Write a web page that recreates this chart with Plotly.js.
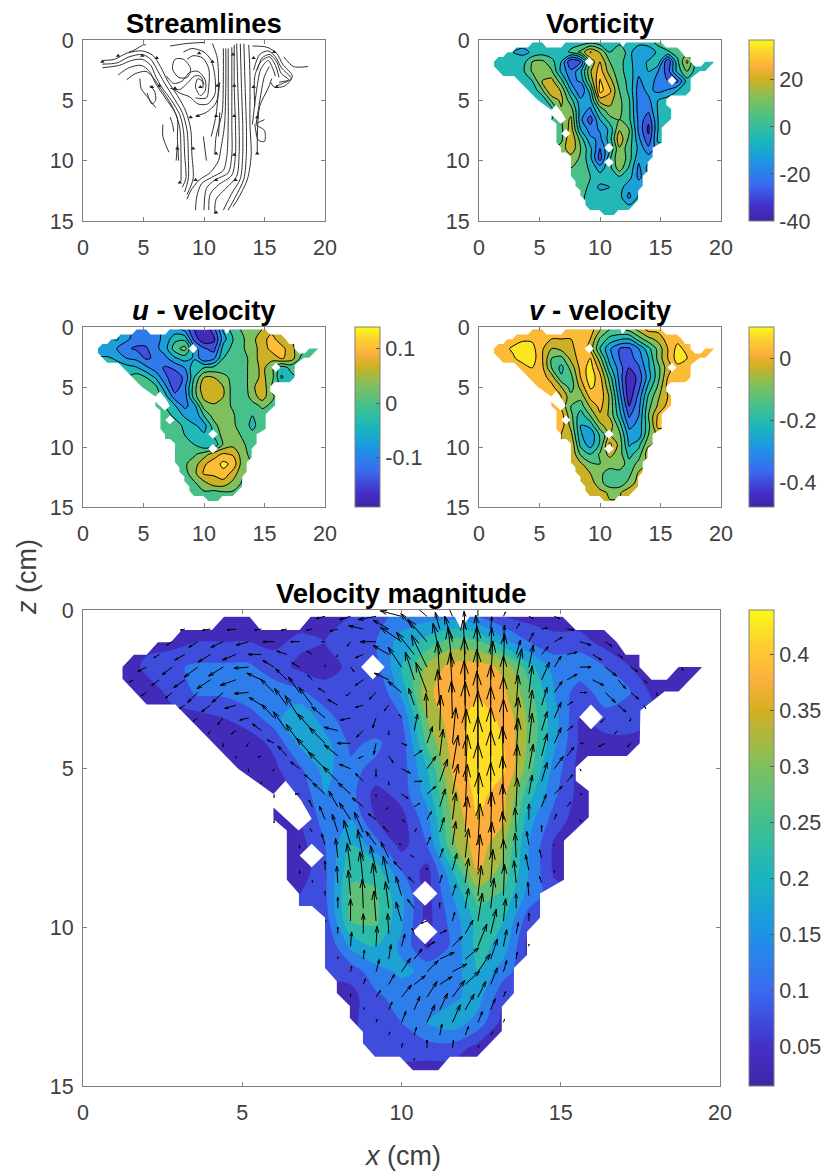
<!DOCTYPE html>
<html><head><meta charset="utf-8">
<script src="https://cdn.plot.ly/plotly-3.0.1.min.js"></script>
<style>html,body{margin:0;padding:0;background:#fff}</style></head>
<body><div id="chart" style="width:832px;height:1174px"></div>
<script>
const _ = null;
const xGrid = [1.2,2,2.8,3.6,4.4,5.2,6,6.8,7.6,8.4,9.2,10,10.8,11.6,12.4,13.2,14,14.8,15.6,16.4,17.2,18,18.8,19.6];
const zGrid = [0.2,1,1.8,2.6,3.4,4.2,5,5.8,6.6,7.4,8.2,9,9.8,10.6,11.4,12.2,13,13.8,14.6];

const magnitude = [
[_,_,_,.02,.03,.03,.02,.03,.04,.05,.08,.12,.13,.13,.1,.05,.03,.02,.02],
[_,_,.03,.05,.05,.05,.04,.06,.05,.06,.1,.17,.22,.27,.26,.17,.1,.07,.07,.03],
[.02,.06,.09,.11,.11,.11,.07,.04,.03,.06,.08,.2,.31,.37,.37,.34,.22,.13,.14,.1,.05,_,.02],
[_,.03,.06,.11,.11,.14,.13,.11,.07,.05,.05,.16,.34,.38,.39,.36,.27,.15,.07,.13,.1,.03],
[_,_,_,.03,.05,.07,.13,.2,.12,.07,.06,.1,.3,.38,.42,.39,.29,.17,.05,.08,.1],
[_,_,_,_,.02,.03,.06,.16,.17,.09,.11,.07,.26,.37,.43,.4,.29,.16,.04,.03,.02],
[_,_,_,_,_,.02,.04,.09,.17,.11,.09,.07,.2,.36,.43,.41,.27,.13,.03],
[_,_,_,_,_,_,.02,.06,.15,.12,.03,.07,.17,.33,.42,.37,.22,.11,.03],
[_,_,_,_,_,_,.02,.05,.12,.15,.05,.03,.13,.31,.4,.36,.17,.08,.02],
[_,_,_,_,_,_,_,.03,.1,.2,.12,.03,.1,.29,.38,.31,.15,.04],
[_,_,_,_,_,_,_,.02,.09,.24,.23,.1,.03,.2,.36,.28,.15,.04],
[_,_,_,_,_,_,_,_,.09,.26,.26,.16,.03,.15,.27,.24,.13],
[_,_,_,_,_,_,_,_,.07,.25,.26,.16,.03,.12,.22,.2,.07],
[_,_,_,_,_,_,_,_,.05,.16,.2,.14,.04,.11,.22,.18,.03],
[_,_,_,_,_,_,_,_,_,.07,.13,.16,.14,.12,.2,.12],
[_,_,_,_,_,_,_,_,_,.03,.09,.12,.11,.14,.17,.06],
[_,_,_,_,_,_,_,_,_,_,.06,.1,.15,.18,.13,.03],
[_,_,_,_,_,_,_,_,_,_,_,.06,.08,.08,.03],
[_,_,_,_,_,_,_,_,_,_,_,_,.02,.02]
];
const uVelocity = [
[_,_,_,_,_,_,_,_,-.08,-.1,-.16,-.19,-.14,-.05,0,.02,.04,.05],
[_,_,-.05,-.08,-.11,-.11,-.1,-.08,-.03,-.03,-.14,-.19,-.17,-.07,-.02,.01,.04,.07,.1,.06],
[_,-.08,-.09,-.12,-.13,-.13,-.1,-.07,0,.03,_,-.12,-.14,-.04,-.01,.01,.04,.06,.1,.1,.06,_,.01],
[_,-.05,-.06,-.09,-.1,-.13,-.12,-.1,-.06,-.04,-.06,-.12,-.1,-.02,-.01,0,.03,.07,.06,.09,.07,.01],
[_,_,_,-.04,-.05,-.08,-.11,-.13,-.12,-.09,-.03,-.02,-.01,-.01,-.01,0,.03,.06,_,-.04,-.01],
[_,_,_,_,0,-.02,-.06,-.12,-.14,-.12,-.02,.05,.05,.03,0,0,.03,.06,.03,-.06,-.03],
[_,_,_,_,_,0,-.01,-.08,-.15,-.1,0,.08,.08,.05,0,-.01,.04,.08,.01],
[_,_,_,_,_,_,0,-.04,-.11,-.11,0,.06,.08,.05,0,-.01,.03,.07,.02],
[_,_,_,_,_,_,0,_,-.05,-.1,-.07,.03,.04,.03,.01,-.01,0,.02,.01],
[_,_,_,_,_,_,_,0,-.03,-.06,-.09,-.02,.03,.03,.02,-.01,-.02,0],
[_,_,_,_,_,_,_,0,0,-.03,-.05,-.07,0,.04,.02,0,-.03,0],
[_,_,_,_,_,_,_,_,0,-.02,-.03,-.05,_,.03,.03,.01,-.01],
[_,_,_,_,_,_,_,_,.01,0,-.02,-.05,-.05,.02,.04,.02,0],
[_,_,_,_,_,_,_,_,0,.01,.01,.03,.07,.09,.08,.03,0],
[_,_,_,_,_,_,_,_,_,.01,.03,.08,.1,.13,.11,.03],
[_,_,_,_,_,_,_,_,_,0,.04,.09,.09,.11,.07,.02],
[_,_,_,_,_,_,_,_,_,_,.01,.04,.07,.07,.04,.01],
[_,_,_,_,_,_,_,_,_,_,_,.01,0,.01,.01],
[]
];
const vVelocity = [
[_,_,_,_,_,_,_,_,.02,.03,.03,-.05,-.12,-.12,-.1,-.04,.02,.02],
[_,_,.03,.05,.05,.03,0,0,0,.04,0,-.13,-.2,-.23,-.24,-.15,-.08,-.04,.03,.04],
[_,.04,.07,.09,.08,.01,-.06,-.04,-.02,.04,_,-.18,-.29,-.36,-.37,-.3,-.2,-.1,0,.08,.04,.03,.03],
[_,.03,.05,.09,.09,.01,-.12,-.14,-.04,.03,.06,-.1,-.27,-.36,-.39,-.33,-.24,-.1,0,.09,.06,.03],
[_,_,_,.03,.06,.02,-.12,-.2,-.1,.02,.09,-.03,-.22,-.33,-.42,-.37,-.25,-.14,_,.04,.03],
[_,_,_,_,.03,.03,-.03,-.17,-.14,0,.1,.02,-.15,-.32,-.47,-.4,-.27,-.14,0,.03,.03],
[_,_,_,_,_,.03,.02,-.06,-.15,-.04,.07,.04,-.11,-.3,-.47,-.38,-.22,-.11,.02],
[_,_,_,_,_,_,.03,0,-.1,-.1,.02,.04,-.07,-.27,-.46,-.34,-.17,-.07,0],
[_,_,_,_,_,_,.03,_,-.12,-.15,-.05,.02,-.07,-.24,-.42,-.32,-.14,-.05,.02],
[_,_,_,_,_,_,_,.03,-.1,-.22,-.12,-.01,-.07,-.21,-.37,-.3,-.12,.01],
[_,_,_,_,_,_,_,.03,-.08,-.24,-.22,-.08,-.02,-.15,-.32,-.28,-.14,.02],
[_,_,_,_,_,_,_,_,-.04,-.23,-.29,-.17,_,-.1,-.27,-.28,-.12],
[_,_,_,_,_,_,_,_,0,-.2,-.27,-.17,.02,-.08,-.25,-.2,-.07],
[_,_,_,_,_,_,_,_,0,-.13,-.18,-.11,-.04,-.09,-.2,-.15,-.02],
[_,_,_,_,_,_,_,_,_,-.05,-.11,-.12,-.1,-.07,-.16,-.1],
[_,_,_,_,_,_,_,_,_,-.03,-.06,-.11,-.14,-.15,-.14,-.05],
[_,_,_,_,_,_,_,_,_,_,-.03,-.1,-.16,-.16,-.1,-.03],
[_,_,_,_,_,_,_,_,_,_,_,-.04,-.07,-.07,-.02],
[]
];
const vorticity = [
[_,_,_,-5,-8,-5,-4,-6,-4,-4,-2,-5,-5,-3,-5,-5,-4,3,5],
[_,_,-8,-10,-7,-4,-5,-6,2,10,25,15,0,8,-5,-15,-14,-6,-1,3],
[-2,-6,-3,-4,8,10,3,-8,-32,-24,10,24,8,4,-6,-12,-7,-3,-32,-2,18,-5,-5],
[_,-1,-1,-2,9,16,9,-10,-22,-10,15,28,12,3,-4,-14,-8,-16,-28,-5,8,-5],
[_,_,_,-4,0,16,19,3,-18,-15,10,33,20,4,-2,-18,-10,-20,-24,-26,-4],
[_,_,_,_,-7,6,24,15,-8,-24,-4,35,26,8,-2,-20,-14,-18,-15,-8,-5],
[_,_,_,_,_,-8,10,18,3,-14,-10,20,19,10,1,-20,-18,-8,-4],
[_,_,_,_,_,_,-4,15,12,-12,-18,2,14,10,2,-20,-22,-7,-4],
[_,_,_,_,_,_,0,8,18,-14,-28,-8,4,8,2,-18,-30,-8,-4],
[_,_,_,_,_,_,_,6,20,-8,-20,-15,-6,15,8,-18,-34,-8],
[_,_,_,_,_,_,_,6,24,4,-14,-18,-4,22,6,-14,-30,-6],
[_,_,_,_,_,_,_,_,22,8,-6,-24,-8,15,3,-10,-22],
[_,_,_,_,_,_,_,_,12,7,-6,-28,-2,16,4,-14,-12],
[_,_,_,_,_,_,_,_,8,6,-2,-12,-3,13,-1,-18,-5],
[_,_,_,_,_,_,_,_,_,6,0,-4,-5,-2,-5,-18],
[_,_,_,_,_,_,_,_,_,4,-2,-10,-8,-4,-14,-10],
[_,_,_,_,_,_,_,_,_,_,-2,-3,-3,-5,-18,-7],
[_,_,_,_,_,_,_,_,_,_,_,-3,-3,-6,-6],
[_,_,_,_,_,_,_,_,_,_,_,_,-3,-3]
];

// second, staggered set of arrows on the large panel
const xArrows2 = [1.6,2.4,3.2,4,4.8,5.6,6.4,7.2,8,8.8,9.6,10.4,11.2,12,12.8,13.6,14.4,15.2,16,16.8,17.6];
const zArrows2 = [.6,1.4,2.2,3,3.8,4.6,5.4,6.2,7,7.8,8.6,9.4,10.2,11,11.8,12.6,13.4,14.2];
const uArrows2 = [
[_,_,-.04,-.07,-.08,-.06,-.05,-.05,-.07,-.13,-.14,-.12,-.04,-.01,.01,.03,.05,.06],
[_,-.05,-.09,-.11,-.12,-.12,-.09,-.05,-.01,-.07,-.14,-.16,-.06,-.02,.01,.04,.06,.09,.08,.04],
[-.04,-.07,-.1,-.12,-.14,-.13,-.1,-.04,0,-.07,-.13,-.08,-.02,-.01,.02,.05,.07,.09,.1,.07,.03],
[_,_,-.05,-.08,-.1,-.11,-.11,-.12,-.09,-.07,-.04,-.05,-.02,-.01,0,.02,.05,.05,_,.07,.02],
[_,_,_,-.02,-.04,-.08,-.12,-.13,-.12,-.06,0,.03,.01,0,0,.02,.05,.05,_,-.03],
[_,_,_,_,0,-.03,-.08,-.14,-.12,-.04,.04,.07,.03,.01,0,.02,.05,.06],
[_,_,_,_,_,0,_,-.07,-.13,-.07,0,.07,.07,.02,0,.01,.05,.05],
[_,_,_,_,_,_,_,-.03,-.08,-.1,-.02,.05,.05,.02,0,.01,.04,.03],
[_,_,_,_,_,_,_,-.02,-.05,-.08,-.05,.02,.04,.02,.01,-.01,0],
[_,_,_,_,_,_,_,_,-.02,-.05,-.07,-.03,.03,.03,.01,-.01,-.02],
[_,_,_,_,_,_,_,0,-.01,-.03,-.05,-.05,.02,.03,.02,-.02,-.02],
[_,_,_,_,_,_,_,_,0,-.01,-.03,-.06,0,.03,.03,0],
[_,_,_,_,_,_,_,_,0,0,-.01,-.02,.06,.07,.05,.02],
[_,_,_,_,_,_,_,_,0,.01,.02,.07,.13,.12,.06,.01],
[_,_,_,_,_,_,_,_,_,.02,.05,.1,.11,.13,.06],
[_,_,_,_,_,_,_,_,_,.01,.03,.05,.07,.08,.04],
[_,_,_,_,_,_,_,_,_,_,.01,.02,.02,.03,.02],
[_,_,_,_,_,_,_,_,_,_,_,0]
];
const vArrows2 = [
[_,_,.01,.01,.01,.01,.01,.01,.02,-.03,-.08,-.14,-.15,-.16,-.11,-.05,-.01,.01],
[_,.03,.05,.07,.05,0,-.03,-.03,.02,.03,-.08,-.2,-.28,-.31,-.24,-.13,-.07,-.02,.05,.03],
[.02,.05,.07,.08,.05,-.06,-.1,-.04,0,.05,-.06,-.25,-.35,-.38,-.35,-.28,-.16,-.05,.05,.08,.03],
[_,_,.03,.06,.03,-.07,-.15,-.16,-.05,.02,.05,-.15,-.32,-.4,-.36,-.27,-.16,-.03,_,.06,.03],
[_,_,_,.03,.03,-.06,-.17,-.15,-.03,.06,.04,-.15,-.32,-.44,-.4,-.3,-.17,-.04,_,.03],
[_,_,_,_,.02,.01,-.09,-.16,-.1,.02,.06,-.05,-.24,-.42,-.44,-.34,-.2,-.08],
[_,_,_,_,_,.02,_,-.06,-.13,-.07,.03,0,-.2,-.42,-.46,-.33,-.17,-.06],
[_,_,_,_,_,_,_,-.06,-.14,-.08,.02,-.03,-.16,-.38,-.4,-.26,-.11,-.04],
[_,_,_,_,_,_,_,-.03,-.16,-.18,-.05,-.03,-.13,-.32,-.36,-.22,-.06],
[_,_,_,_,_,_,_,_,-.17,-.25,-.14,-.02,-.08,-.26,-.32,-.22,-.07],
[_,_,_,_,_,_,_,-.02,-.15,-.28,-.24,-.05,-.07,-.22,-.3,-.2,-.06],
[_,_,_,_,_,_,_,_,-.1,-.26,-.24,-.08,-.05,-.18,-.27,-.13],
[_,_,_,_,_,_,_,_,-.06,-.18,-.18,-.05,-.03,-.12,-.22,-.1],
[_,_,_,_,_,_,_,_,-.02,-.08,-.13,-.09,-.06,-.1,-.18,-.06],
[_,_,_,_,_,_,_,_,_,-.05,-.09,-.08,-.07,-.12,-.15],
[_,_,_,_,_,_,_,_,_,-.02,-.07,-.12,-.15,-.14,-.1],
[_,_,_,_,_,_,_,_,_,_,-.03,-.07,-.1,-.08,-.03],
[_,_,_,_,_,_,_,_,_,_,_,-.02]
];

const outlineX = [1.24,1.6,2.0,2.35,2.76,3.1,4.05,4.43,5.23,5.57,6.8,7.15,11.67,11.87,12.14,15.06,15.47,16.36,16.76,17.04,17.47,17.47,17.85,18.33,18.7,19.44,18.7,18.26,17.5,17.48,17.08,15.85,15.47,15.47,15.88,15.88,15.1,15.1,14.35,14.35,13.94,13.94,13.53,13.53,13.15,13.15,12.37,11.52,11.15,10.36,9.95,9.17,8.79,8.79,8.38,8.38,7.97,7.97,7.6,7.6,7.19,6.78,6.78,6.4,6.4,5.98,5.98,4.87,2.9,2.0,1.24];
const outlineZ = [1.8,1.41,1.41,1.02,1.02,.63,.63,.21,.21,.63,.63,.21,.21,.6,.21,.21,.63,.63,1.02,1.41,1.41,1.8,2.2,2.2,1.8,1.8,2.57,2.57,3.17,4.2,4.6,4.6,4.96,5.38,5.7,6.53,7.27,8.5,8.93,9.7,10.14,10.87,11.28,12.07,12.5,13.27,14.08,14.08,14.5,14.5,14.08,14.08,13.65,13.3,12.86,12.48,12.07,11.7,11.28,9.7,9.33,9.33,8.93,8.5,6.95,6.59,5.8,5,2.98,2.98,2.17];
const holesX = [[8.73,9.1,9.47,9.1],[15.58,15.95,16.32,15.95],[6.36,6.85,7.18,6.77,5.98,5.98],[6.8,7.18,7.56,7.18],[10.35,10.74,11.13,10.74],[10.35,10.74,11.13,10.74]];
const holesZ = [[1.8,1.41,1.8,2.19],[3.37,2.98,3.37,3.76],[5.38,6,6.58,6.95,6.22,5.8],[7.74,7.37,7.74,8.11],[8.93,8.54,8.93,9.32],[10.14,9.75,10.14,10.53]];

const streamX = [
[1.6,2.6,3.6,4.9,5.8,6.4,7,7.8,8.5,8.9,9,9.1,8.6],[1.6,2.8,3.8,4.9,5.6,6.2,6.7,7.5,8.2,8.6,8.7,8.7,8.4],
[1.6,3,4,4.9,5.6,6,6.5,7.3,8,8.3,8.4,8.5,8.2],[2.9,3.8,4.8,5.5,6,6.8,7.6,8,8.1,8.1],[3.6,4.3,5.2,5.7,6.4,7.2,7.8,7.8,7.9],
[3.8,4.3,5,5.2],[4.7,4.8,5.3,6],[5.5,5.9,6,5.7,5.3],[6.6,6.6,7.1],[7.2,7.4,7.5],[7.8,7.7],
[11.6,11.6,11.5,11,10.9],[11.8,11.8,11.7,11.4,11.2,10.5,9.6,8.9,8.6],[12,12,12,11.9,11.6,10.6,9.8,9.4,9.3],[12.3,12.3,12.3,12.3,12,10.9,10.2,10],
[12.5,12.5,12.6,12.6,12.3,11.2,10.5,10.4],[12.7,12.8,12.9,12.9,12.7,11.8,11,10.9],[13,13.1,13.2,13.2,13,12.3,11.6],[13.3,13.4,13.5,13.5,13.3,12.6,12],[13.7,13.8,13.8,13.9,13.6,12.9,12.4],
[14,15.2,16,16.5,17.3,16.7,15.8,15.5],[14.1,14.6,15.3,15.9,16.4,17.2,16.5,16],[14.4,14.8,15.4,16,16.4,17,16.2],[14.2,14.2,14.7,15.4,15.9,16.2],[14,14.3,14.7,15.3,15.7,15.9],[14.3,14.7,15,15.4],[14.4,14.6,15.3,15.6],
[14.2,14.5,15,15,14.3,15],[14.4,14.4],[16.6,17.4,18.6],
[7.6,8.3,8.9,8.6,7.9,7.4,7.6],[6.9,7.5,8.2,8.8,9.5,10.1,10.1,9.7,9.3,9.5,9.9,9.9],[7.2,8,8.6,9.2,9.7,10],[7.2,8.5,10],[8.3,9,10,10.6,10.9,10.9,10.3,9.5,8.8,8,7.4],[8.6,9.1,9.9,10.4,10.4,10.2,9.3],[10.7,11.1,11.2,11,10.6],[9.3,10.2,11,11.3],[9.95,10.2],[11.3,11.2]
];
const streamZ = [
[1.7,1.6,1.1,.9,1.3,2.2,3.4,4.6,5.9,7.4,9.5,11.5,12.8],[2,1.9,1.4,1.2,1.6,2.6,3.5,4.8,6,7.5,9.5,11.5,12.6],
[2.3,2.1,1.7,1.6,2.1,3,3.9,5,6.2,7.5,9.5,11.5,12.2],[2.9,2.3,2.1,2.6,3.6,4.8,6,7.3,9.5,11.7],[3.3,2.8,2.6,3,4,5.2,6.5,8,10],
[1,.8,.4,.4],[3.2,4,4.7,5.6],[3.8,4.2,5,5.3,4.4],[7,8,9.3],[6.4,7,7.6],[8.7,10],
[.7,3,6,8,9.4],[.7,4,7,9,10,11,11.6,12.5,13.2],[.7,4,7,9.5,10.8,11.4,11.9,13,14.1],[.6,4,7,9.5,11,11.6,12.3,14.1],
[.4,4,7,9.5,11.2,12,12.8,14.1],[.3,4,7,9.5,11.3,12.3,13.2,14.4],[.3,4,7,9.5,11.5,12.7,14.1],[.3,4,7,9.5,11.5,13,14.1],[.4,3,7,9.5,11.5,13,13.8],
[.5,.6,1.1,2,3,3.8,3.9,3.5],[2.5,1.2,.9,1.4,2.3,3.2,3.6,3.8],[2.5,1.5,1.2,1.8,2.8,3.3,3.5],[5.5,3,1.8,1.4,2.1,3.1],[7,4.5,2.4,1.7,2.4,3],[7,4.5,3,2.2],[8,5.5,4,3.2],
[7,8.3,8.4,7.5,7,6.6],[7.5,9.4],[1.4,2.2,2.2],
[1.6,1.6,2.4,3.1,3.1,2.4,1.6],[3,3.6,3.4,2.7,2.6,3.3,4.2,4.6,3.9,3.2,3.5,4],[4,4.1,3.6,3,3,3.7],[.5,.3,.2],[1,.7,1,1.7,3,4.5,5.3,5.3,4.7,4.4,4],[1.6,1.3,1.5,2.4,3.8,4.8,4.8],[.3,1.5,3.7,6.2,8],[6.3,6,5.2,3.5],[8,10],[6,8]
];
const headX = [1.6,2.9,4.9,6.1,6.3,5.7,7.6,9.7,9.6,10.7,11.1,9.5,11,8.9,7.8,9.1,8,9.3,11,12.6,11,12.5,12.5,12.5,12.4,14.1,14.1,15.8,16,14.4,14.4,11];
const headZ = [1.8,1.3,1.3,1.5,3.8,3.9,4,3.9,1.1,1.8,3.8,6.3,6.3,6.4,9,9,11.8,11.6,11.6,11.6,14.3,9.5,6.3,3.8,1.2,3.9,1.5,1,3.9,6.4,9.4,9.4];

const parula = [[0,'#3e26a8'],[.082,'#4330c8'],[.2,'#3a6af0'],[.318,'#1f92e6'],[.435,'#18b5c0'],[.553,'#40c090'],[.67,'#7dc060'],[.79,'#d4b020'],[.847,'#fbae3b'],[.93,'#fdd030'],[1,'#f9fb15']];

function hex(c){return [1,3,5].map(i=>parseInt(c.substr(i,2),16));}
function parulaAt(t){
  t=Math.max(0,Math.min(1,t));
  for(let i=1;i<parula.length;i++){ if(t<=parula[i][0]){
    const a=parula[i-1],b=parula[i],f=(t-a[0])/(b[0]-a[0]),A=hex(a[1]),B=hex(b[1]);
    return 'rgb('+A.map((v,k)=>Math.round(v+(B[k]-v)*f)).join(',')+')';
  }}
  return parula[parula.length-1][1];
}
function pad(rows){return rows.map(r=>{const o=r.slice();while(o.length<xGrid.length)o.push(null);return o;});}

const W=832,H=1174;
const panels=[
 {id:'',  l:83, r:720,t:610,b:1086,cb:749,z:magnitude,vmin:.015,vmax:.44,start:.05,end:.4,size:.05,lines:false,title:'<b>Velocity magnitude</b>',tv:[.05,.1,.15,.2,.25,.3,.35,.4],tt:['0.05','0.1','0.15','0.2','0.25','0.3','0.35','0.4']},
 {id:'2', l:83, r:325,t:40, b:221, title:'<b>Streamlines</b>'},
 {id:'3', l:479,r:721,t:40, b:221, cb:749,z:vorticity,vmin:-40,vmax:37,start:-32,end:32,size:8,lines:true,title:'<b>Vorticity</b>',tv:[-40,-20,0,20],tt:['-40','-20','0','20']},
 {id:'4', l:83, r:325,t:327,b:507, cb:355,z:uVelocity,vmin:-.19,vmax:.14,start:-.16,end:.12,size:.035,lines:true,title:'<b><i>u</i> - velocity</b>',tv:[-.1,0,.1],tt:['-0.1','0','0.1']},
 {id:'5', l:479,r:721,t:327,b:507, cb:749,z:vVelocity,vmin:-.48,vmax:.1,start:-.42,end:.06,size:.06,lines:true,title:'<b><i>v</i> - velocity</b>',tv:[-.4,-.2,0],tt:['-0.4','-0.2','0']}
];

const maskX=[0,20,20,0,0,null].concat(outlineX.slice().reverse());
const maskZ=[0,0,15,15,0,null].concat(outlineZ.slice().reverse());
holesX.forEach((h,i)=>{maskX.push(null,...h,h[0]);maskZ.push(null,...holesZ[i],holesZ[i][0]);});

const ink='#404040', frame='#7f7f7f', fontFam='"Liberation Sans",Arial,sans-serif', tickSize=21.5;
const layout={width:W,height:H,margin:{l:0,r:0,t:0,b:0,pad:0},paper_bgcolor:'#fff',plot_bgcolor:'#fff',showlegend:false,hovermode:false,annotations:[],font:{family:fontFam,color:ink,size:18}};
const traces=[];

panels.forEach(p=>{
  const axis=(dom,extra)=>Object.assign({domain:dom,showgrid:false,zeroline:false,showline:true,linecolor:frame,linewidth:1,mirror:'ticks',ticks:'inside',ticklen:4,tickcolor:frame,tickwidth:1,tickfont:{family:fontFam,size:tickSize,color:ink},fixedrange:true},extra);
  layout['xaxis'+p.id]=axis([p.l/W,p.r/W],{range:[0,20],tickmode:'array',tickvals:[0,5,10,15,20],anchor:'y'+p.id,ticklabelstandoff:7});
  layout['yaxis'+p.id]=axis([1-p.b/H,1-p.t/H],{range:[15,0],tickmode:'array',tickvals:[0,5,10,15],anchor:'x'+p.id,ticklabelstandoff:4});
  const ax={xaxis:'x'+p.id,yaxis:'y'+p.id};
  if(p.z){
    const bands=[],n=Math.round((p.end-p.start)/p.size);
    for(let k=-1;k<=n;k++){
      const lo=k<0?p.vmin:p.start+k*p.size, hi=k>=n?p.vmax:p.start+(k+1)*p.size;
      bands.push(parulaAt(((lo+hi)/2-p.vmin)/(p.vmax-p.vmin)));
    }
    const cs=bands.map((c,i)=>[i/(bands.length-1),c]);
    traces.push(Object.assign({type:'contour',x:xGrid,y:zGrid,z:pad(p.z),connectgaps:true,autocontour:false,showscale:false,hoverinfo:'skip',colorscale:cs,
      contours:{start:p.start,end:p.end,size:p.size,coloring:'fill',showlines:p.lines},
      line:{color:'#000',width:p.lines?1:0,smoothing:.85}},ax));
    traces.push(Object.assign({type:'scatter',mode:'lines',x:maskX,y:maskZ,fill:'toself',fillcolor:'#fff',line:{width:0,color:'rgba(255,255,255,0)'},hoverinfo:'skip'},ax));
    traces.push(Object.assign({type:'scatter',mode:'markers',x:[0,0],y:[0,0],hoverinfo:'skip',marker:{size:1,opacity:0,color:[p.vmin,p.vmax],cmin:p.vmin,cmax:p.vmax,colorscale:parula,showscale:true,
      colorbar:{x:p.cb/W,xanchor:'left',y:1-p.t/H,yanchor:'top',len:(p.b-p.t)/H,lenmode:'fraction',thickness:25,thicknessmode:'pixels',xpad:0,ypad:0,outlinecolor:frame,outlinewidth:1,ticks:'inside',ticklen:4,tickcolor:'#555',tickmode:'array',tickvals:p.tv,ticktext:p.tt,tickfont:{family:fontFam,size:tickSize,color:ink}}}},ax));
  }
  layout.annotations.push({xref:'paper',yref:'paper',x:(p.l+p.r)/2/W,y:1-(p.t+1)/H,xanchor:'center',yanchor:'bottom',showarrow:false,text:p.title,font:{family:fontFam,size:27.5,color:'#000'}});
});

// quiver on the large panel, drawn from the velocity grids
const qScale=3.5,qx=[],qz=[];
function addArrows(xs,zs,us,vs){
  xs.forEach((x,i)=>zs.forEach((z,j)=>{
    const u=us[j][i],v=vs[j][i];
    if(u==null||v==null)return;
    const dx=u*qScale,dz=v*qScale,tx=x+dx,tz=z+dz;
    qx.push(x,tx,null,tx-.3*(dx+.3*dz),tx,tx-.3*(dx-.3*dz),null);
    qz.push(z,tz,null,tz-.3*(dz-.3*dx),tz,tz-.3*(dz+.3*dx),null);
  }));
}
addArrows(xGrid,zGrid,uVelocity,vVelocity);
addArrows(xArrows2,zArrows2,uArrows2,vArrows2);
traces.push({type:'scatter',mode:'lines',x:qx,y:qz,xaxis:'x',yaxis:'y',line:{color:'#000',width:1},hoverinfo:'skip'});

// streamlines
streamX.forEach((sx,k)=>traces.push({type:'scatter',mode:'lines',x:sx,y:streamZ[k],xaxis:'x2',yaxis:'y2',line:{color:'#333',width:1,shape:'spline',smoothing:.8},hoverinfo:'skip'}));
traces.push({type:'scatter',mode:'markers',x:headX,y:headZ,xaxis:'x2',yaxis:'y2',marker:{symbol:'triangle-up',size:4,color:'#222'},hoverinfo:'skip'});

layout.annotations.push({xref:'paper',yref:'paper',x:402/W,y:1-1156/H,xanchor:'center',yanchor:'middle',showarrow:false,text:'<i>x</i> (cm)',font:{family:fontFam,size:27,color:ink}});
layout.annotations.push({xref:'paper',yref:'paper',x:27/W,y:1-577/H,xanchor:'center',yanchor:'middle',textangle:-90,showarrow:false,text:'<i>z</i> (cm)',font:{family:fontFam,size:27,color:ink}});

Plotly.newPlot('chart',traces,layout,{staticPlot:true,displayModeBar:false});
</script></body></html>
